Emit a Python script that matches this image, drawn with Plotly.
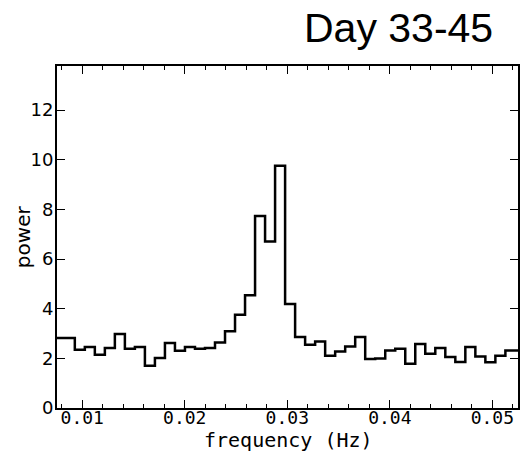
import plotly.graph_objects as go

# frequency bins (Hz) and power values
freq = [0.0068359, 0.0078125, 0.0087891, 0.0097656, 0.0107422, 0.0117188,
        0.0126953, 0.0136719, 0.0146484, 0.0156250, 0.0166016, 0.0175781,
        0.0185547, 0.0195313, 0.0205078, 0.0214844, 0.0224609, 0.0234375,
        0.0244141, 0.0253906, 0.0263672, 0.0273438, 0.0283203, 0.0292969,
        0.0302734, 0.0312500, 0.0322266, 0.0332031, 0.0341797, 0.0351563,
        0.0361328, 0.0371094, 0.0380859, 0.0390625, 0.0400391, 0.0410156,
        0.0419922, 0.0429688, 0.0439453, 0.0449219, 0.0458984, 0.0468750,
        0.0478516, 0.0488281, 0.0498047, 0.0507813, 0.0517578, 0.0527344]
power = [2.82, 2.82, 2.82, 2.35, 2.46, 2.15, 2.42, 2.98, 2.39, 2.46, 1.70, 2.01,
         2.62, 2.31, 2.46, 2.39, 2.42, 2.64, 3.09, 3.76, 4.54, 7.74, 6.71, 9.76,
         4.19, 2.86, 2.55, 2.68, 2.11, 2.28, 2.48, 2.86, 1.97, 1.99, 2.32, 2.39,
         1.78, 2.58, 2.19, 2.42, 2.05, 1.85, 2.46, 2.08, 1.84, 2.11, 2.32, 2.32]

x_ticks = [0.01, 0.02, 0.03, 0.04, 0.05]
x_ticktext = ["0.01", "0.02", "0.03", "0.04", "0.05"]
y_ticks = [0, 2, 4, 6, 8, 10, 12]
title_text = "Day 33-45"
x_title = "frequency (Hz)"
y_title = "power"

PLOT_H = 454 - 66 - 46
PLOT_W = 521 - 57 - 1

fig = go.Figure()
fig.add_trace(go.Scatter(x=freq, y=power, mode="lines",
                         line=dict(color="black", width=2.5, shape="hvh"),
                         hoverinfo="skip", showlegend=False))

fig.update_layout(
    width=521, height=454,
    margin=dict(l=57, r=1, t=66, b=46),
    paper_bgcolor="white", plot_bgcolor="white",
    annotations=[
        dict(text=title_text, xref="paper", yref="paper",
             x=0.741, y=1.0 + (66 - 28) / PLOT_H,
             xanchor="center", yanchor="middle", showarrow=False,
             font=dict(family="Liberation Sans", size=41, color="black")),
        dict(text=x_title, xref="paper", yref="paper",
             x=(290 - 57) / PLOT_W, y=-(440 - 408) / PLOT_H,
             xanchor="center", yanchor="middle", showarrow=False,
             font=dict(family="DejaVu Sans Mono", size=20, color="black")),
        dict(text=y_title, xref="paper", yref="paper", textangle=-90,
             x=-(57 - 23) / PLOT_W, y=0.5,
             xanchor="center", yanchor="middle", showarrow=False,
             font=dict(family="DejaVu Sans", size=20, color="black")),
    ],
)

fig.update_xaxes(
    range=[0.00754, 0.0525],
    tickvals=x_ticks, ticktext=x_ticktext,
    ticks="inside", ticklen=8, tickwidth=1, tickcolor="black",
    minor=dict(dtick=0.002, tick0=0, ticks="inside", ticklen=4, tickwidth=1, tickcolor="black"),
    showline=True, linecolor="black", linewidth=2, mirror="ticks",
    showgrid=False, zeroline=False,
    ticklabelstandoff=-8,
    tickfont=dict(family="DejaVu Sans Mono", size=18, color="black"),
)
fig.update_yaxes(
    range=[0, 13.78],
    tickvals=y_ticks,
    ticks="inside", ticklen=8, tickwidth=1, tickcolor="black",
    showline=True, linecolor="black", linewidth=2, mirror="ticks",
    showgrid=False, zeroline=False,
    ticklabelstandoff=-2,
    tickfont=dict(family="DejaVu Sans", size=18, color="black"),
)

fig.write_html("out.html")
